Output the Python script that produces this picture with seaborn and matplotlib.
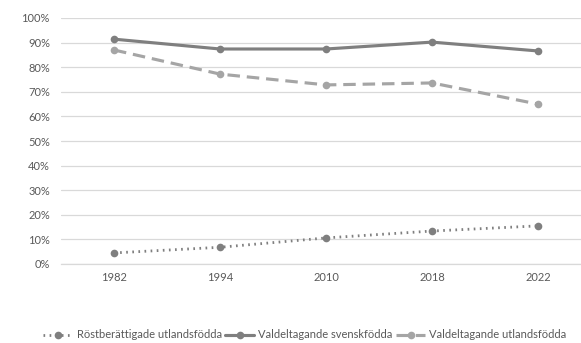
import matplotlib
matplotlib.use("Agg")
import matplotlib.pyplot as plt
import seaborn as sns
import pandas as pd
from matplotlib.lines import Line2D
from matplotlib.ticker import PercentFormatter

years = ["1982", "1994", "2010", "2018", "2022"]
rostber_utl = [4.5, 6.8, 10.6, 13.4, 15.5]
valdelt_svensk = [91.4, 87.4, 87.4, 90.2, 86.6]
valdelt_utl = [87.0, 77.2, 72.8, 73.6, 65.0]
series_names = ["Röstberättigade utlandsfödda", "Valdeltagande svenskfödda", "Valdeltagande utlandsfödda"]
yticks = [0, 10, 20, 30, 40, 50, 60, 70, 80, 90, 100]

sns.set_theme(style="white")
plt.rcParams["font.family"] = ["Lato", "DejaVu Sans"]

fig = plt.figure(figsize=(5.81, 3.43), dpi=100)
ax = fig.add_axes([61/581, 1-264/343, 530/581, 246/343])

styles = [
    dict(color="#7f7f7f", ls=(0, (0.6, 1.6)), lw=2.0),
    dict(color="#7f7f7f", ls="-", lw=2.25),
    dict(color="#a5a5a5", ls=(0, (4, 2.2)), lw=2.25),
]
data = [rostber_utl, valdelt_svensk, valdelt_utl]
handles = []
for name, vals, st in zip(series_names, data, styles):
    df = pd.DataFrame({"year": years, "value": vals})
    sns.lineplot(data=df, x="year", y="value", ax=ax, color=st["color"],
                 linewidth=st["lw"], linestyle=st["ls"], marker="o",
                 markersize=5.5, markeredgewidth=0, sort=False)
    handles.append(Line2D([], [], color=st["color"], lw=st["lw"], ls=st["ls"],
                          marker="o", markersize=5.5, markeredgewidth=0))

ax.set_xlim(-0.5, 4.5)
ax.set_ylim(0, 100)
ax.set_yticks(yticks)
ax.yaxis.set_major_formatter(PercentFormatter(decimals=0))
ax.grid(axis="y", color="#d9d9d9", lw=0.9)
ax.set_axisbelow(True)
for s in ["top", "right", "left"]:
    ax.spines[s].set_visible(False)
ax.spines["bottom"].set_color("#d9d9d9")
ax.spines["bottom"].set_linewidth(0.9)
ax.set_xlabel("")
ax.set_ylabel("")
ax.tick_params(axis="both", length=0, labelsize=8, colors="#595959", pad=6)
ax.tick_params(axis="y", pad=8)

fig.legend(handles, series_names, loc="center", bbox_to_anchor=(0.525, 1-335/343),
           ncol=3, frameon=False, fontsize=8, labelcolor="#595959",
           handlelength=2.6, handletextpad=0.4, columnspacing=0.3)

fig.savefig("out.png", dpi=100)
